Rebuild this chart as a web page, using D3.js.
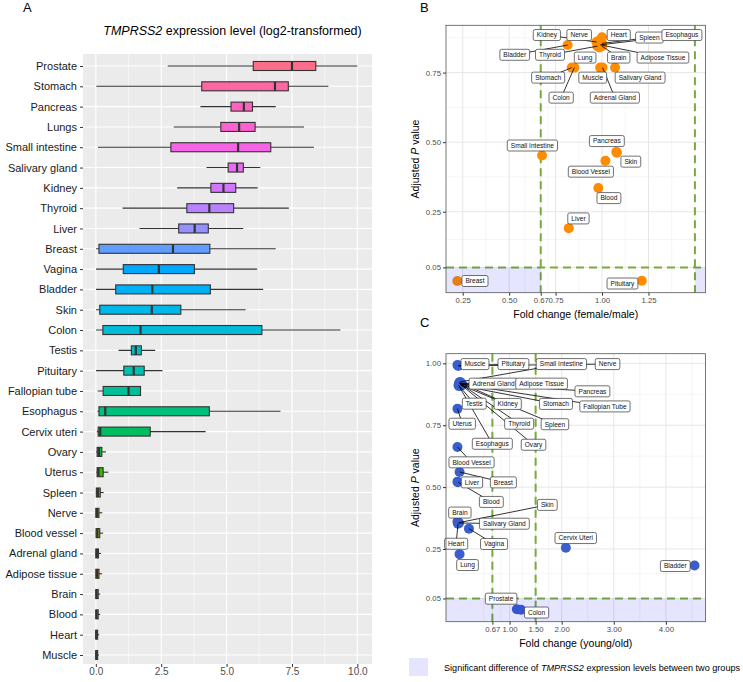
<!DOCTYPE html>
<html>
<head>
<meta charset="utf-8">
<script src="https://cdn.jsdelivr.net/npm/d3@7"></script>
<style>
body { margin: 0; background: #fff; }
svg { font-family: "Liberation Sans", Arial, sans-serif; }
</style>
</head>
<body>
<script>
//---- panel A data: tissues top to bottom, five-number summaries (log2)
var tissues = ["Prostate","Stomach","Pancreas","Lungs","Small intestine","Salivary gland","Kidney","Thyroid","Liver","Breast",
  "Vagina","Bladder","Skin","Colon","Testis","Pituitary","Fallopian tube","Esophagus","Cervix uteri","Ovary",
  "Uterus","Spleen","Nerve","Blood vessel","Adrenal gland","Adipose tissue","Brain","Blood","Heart","Muscle"];
var boxMin = [2.75,0.02,4.0,2.98,0.08,4.23,3.11,1.02,1.67,0.01, 0.01,0.01,0.01,0.01,0.87,0.01,0.07,0.06,0.04,0.02, 0.02,0.0,0.0,0.0,0.0,0.0,0.0,0.0,0.0,0.0];
var boxQ1  = [6.02,4.05,5.17,4.78,2.87,5.06,4.4,3.48,3.17,0.12, 1.05,0.76,0.15,0.27,1.36,1.07,0.28,0.12,0.09,0.05, 0.05,0.02,0.0,0.01,0.0,0.0,0.0,0.0,0.0,0.0];
var boxMed = [7.5,6.85,5.66,5.48,5.44,5.4,4.88,4.34,3.78,2.95, 2.41,2.16,2.14,1.71,1.53,1.45,1.25,0.36,0.17,0.12, 0.1,0.08,0.05,0.06,0.04,0.05,0.03,0.03,0.02,0.02];
var boxQ3  = [8.41,7.36,5.99,6.09,6.69,5.64,5.35,5.27,4.3,4.36, 3.77,4.38,3.25,6.35,1.74,1.85,1.71,4.34,2.08,0.23, 0.28,0.17,0.12,0.15,0.1,0.12,0.09,0.09,0.07,0.07];
var boxMax = [10.0,8.89,6.88,7.96,8.34,6.29,6.19,7.38,5.64,6.88, 6.17,6.4,5.73,9.35,2.27,2.55,1.72,7.06,4.2,0.39, 0.48,0.3,0.25,0.28,0.2,0.24,0.17,0.17,0.13,0.12];
var aTicks = [0, 2.5, 5, 7.5, 10];

//---- panel B data: fold change (female/male) and adjusted P
var bTissue = ["Kidney","Nerve","Heart","Spleen","Esophagus","Bladder","Thyroid","Lung","Brain","Adipose Tissue",
  "Stomach","Muscle","Salivary Gland","Colon","Adrenal Gland","Small Intestine","Pancreas","Skin","Blood Vessel","Blood",
  "Liver","Breast","Pituitary"];
var bFold = [0.97,0.985,1.0,1.0,0.995,0.815,0.975,0.985,1.0,0.99, 0.837,0.99,1.07,0.851,1.003,0.677,1.077,1.08,1.018,0.98, 0.821,0.221,1.214];
var bPadj = [0.86,0.865,0.877,0.855,0.85,0.849,0.845,0.84,0.845,0.85, 0.768,0.768,0.768,0.768,0.768,0.452,0.465,0.462,0.433,0.335, 0.191,0.001,0.002];
var bTicksX = [0.25, 0.5, 0.67, 0.75, 1.0, 1.25];
var bTicksY = [0.05, 0.25, 0.5, 0.75];

//---- panel C data: fold change (young/old) and adjusted P
var cTissue = ["Muscle","Pituitary","Small Intestine","Nerve","Adrenal Gland","Adipose Tissue","Pancreas","Testis","Kidney","Stomach",
  "Fallopian Tube","Uterus","Thyroid","Spleen","Esophagus","Ovary","Blood Vessel","Liver","Breast","Blood",
  "Skin","Brain","Salivary Gland","Heart","Vagina","Cervix Uteri","Lung","Bladder","Prostate","Colon"];
var cFold = [0.0,0.01,0.05,0.02,0.03,0.06,0.08,0.02,0.05,0.07, 0.09,0.0,0.04,0.06,0.03,0.05,0.0,0.0,0.04,0.01, 0.02,0.0,0.03,0.01,0.22,2.08,0.04,4.55,1.14,1.22];
var cPadj = [0.993,0.99,0.925,0.99,0.92,0.915,0.918,0.912,0.922,0.91, 0.915,0.817,0.92,0.913,0.908,0.917,0.662,0.522,0.561,0.52, 0.356,0.36,0.355,0.352,0.332,0.255,0.229,0.183,0.006,0.004];
var cTicksX = [0.67, 1.0, 1.5, 2.0, 3.0, 4.0];
var cTicksY = [0.05, 0.25, 0.5, 0.75, 1.0];

// thresholds of the shaded "significant" zones
var foldCut = [0.67, 1.5];
var pCut = 0.05;

//---- label placement (repelled label centres, data units)
var bLabelX = [0.703,0.877,1.09,1.255,1.43,0.53,0.72,0.909,1.09,1.328, 0.71,0.95,1.205,0.78,1.069,0.625,1.026,1.155,0.94,1.037, 0.873,0.316,1.11];
var bLabelY = [0.885,0.885,0.885,0.876,0.885,0.814,0.814,0.804,0.804,0.804, 0.732,0.732,0.732,0.66,0.66,0.488,0.504,0.43,0.394,0.299, 0.226,0.001,-0.008];
var cLabelX = [0.336,1.074,1.994,2.88,0.694,1.614,2.59,0.322,0.964,1.89, 2.83,0.091,1.184,1.87,0.669,1.46,0.27,0.278,0.881,0.65, 1.724,0.046,0.9,-0.025,0.702,2.27,0.193,4.18,0.837,1.518];
var cLabelY = [0.997,0.997,0.997,0.997,0.918,0.918,0.887,0.837,0.836,0.836, 0.826,0.756,0.756,0.754,0.675,0.671,0.6,0.519,0.519,0.44, 0.428,0.397,0.352,0.271,0.27,0.294,0.185,0.181,0.049,-0.007];

//ggplot-style hue colour (polar LUV -> sRGB)
function hueLuv(h, c, l) {
    var hr = h * Math.PI / 180, U = c * Math.cos(hr), V = c * Math.sin(hr);
    var Xn = 95.047, Yn = 100, Zn = 108.883;
    var den = Xn + 15 * Yn + 3 * Zn, un = 4 * Xn / den, vn = 9 * Yn / den;
    var Y = l > 8 ? Yn * Math.pow((l + 16) / 116, 3) : Yn * l / 903.3;
    var u = U / (13 * l) + un, v = V / (13 * l) + vn;
    var X = 9 * Y * u / (4 * v), Z = -X / 3 - 5 * Y + 3 * Y / v;
    X /= 100; Y /= 100; Z /= 100;
    var lin = [3.240479 * X - 1.53715 * Y - 0.498535 * Z,
               -0.969256 * X + 1.875992 * Y + 0.041556 * Z,
               0.055648 * X - 0.204043 * Y + 1.057311 * Z];
    var rgb = lin.map(function(t) {
        var s = t <= 0.0031308 ? 12.92 * t : 1.055 * Math.pow(t, 1 / 2.4) - 0.055;
        return Math.round(Math.max(0, Math.min(1, s)) * 255);
    });
    return d3.rgb(rgb[0], rgb[1], rgb[2]).formatHex();
}

var svg = d3.select("body").append("svg")
    .attr("width", 743)
    .attr("height", 682);

//panel letters
[["A", 23, 12], ["B", 420, 12], ["C", 420, 327]].forEach(function(p) {
    svg.append("text").attr("x", p[1]).attr("y", p[2])
        .style("font-size", "13px").style("fill", "#000").text(p[0]);
});

//================ panel A: boxplots ================
var aBox = {left: 83, right: 372, top: 54, bottom: 664};
var xA = d3.scaleLinear().domain([-0.49, 10.56]).range([aBox.left, aBox.right]);
var yA = d3.scalePoint().domain(tissues).range([66, 655]);

var gA = svg.append("g");
gA.append("rect")
    .attr("x", aBox.left).attr("y", aBox.top)
    .attr("width", aBox.right - aBox.left).attr("height", aBox.bottom - aBox.top)
    .attr("fill", "#ebebeb");

//minor + major vertical grid
gA.selectAll(".minA").data([1.25, 3.75, 6.25, 8.75]).enter().append("line")
    .attr("x1", d => xA(d)).attr("x2", d => xA(d))
    .attr("y1", aBox.top).attr("y2", aBox.bottom)
    .attr("stroke", "#fff").attr("stroke-width", 0.5);
gA.selectAll(".majA").data(aTicks).enter().append("line")
    .attr("x1", d => xA(d)).attr("x2", d => xA(d))
    .attr("y1", aBox.top).attr("y2", aBox.bottom)
    .attr("stroke", "#fff").attr("stroke-width", 1.1);
gA.selectAll(".rowA").data(tissues).enter().append("line")
    .attr("x1", aBox.left).attr("x2", aBox.right)
    .attr("y1", d => yA(d)).attr("y2", d => yA(d))
    .attr("stroke", "#fff").attr("stroke-width", 1.1);

var boxH = 9;
tissues.forEach(function(t, i) {
    var cy = yA(t);
    var col = hueLuv(15 + (tissues.length - 1 - i) * 12, 100, 65);
    //whisker
    gA.append("line")
        .attr("x1", xA(boxMin[i])).attr("x2", xA(boxMax[i]))
        .attr("y1", cy).attr("y2", cy)
        .attr("stroke", "#333").attr("stroke-width", 1.1);
    //box
    gA.append("rect")
        .attr("x", xA(boxQ1[i])).attr("y", cy - boxH / 2)
        .attr("width", Math.max(xA(boxQ3[i]) - xA(boxQ1[i]), 0.5))
        .attr("height", boxH)
        .attr("fill", col).attr("stroke", "#333").attr("stroke-width", 1.1);
    //median
    gA.append("line")
        .attr("x1", xA(boxMed[i])).attr("x2", xA(boxMed[i]))
        .attr("y1", cy - boxH / 2).attr("y2", cy + boxH / 2)
        .attr("stroke", "#333").attr("stroke-width", 2.2);
});

//A axes
var axA = gA.append("g").attr("transform", "translate(0," + aBox.bottom + ")")
    .call(d3.axisBottom(xA).tickValues(aTicks).tickFormat(d3.format(".1f")).tickSize(3).tickPadding(0.5));
axA.select(".domain").remove();
axA.selectAll("line").attr("stroke", "#333");
axA.selectAll("text").style("font-size", "10px").attr("fill", "#4d4d4d");

var ayA = gA.append("g").attr("transform", "translate(" + aBox.left + ",0)")
    .call(d3.axisLeft(yA).tickSize(3).tickPadding(3));
ayA.select(".domain").remove();
ayA.selectAll("line").attr("stroke", "#333");
ayA.selectAll("text").style("font-size", "11px").attr("fill", "#1a1a1a");

//A title
var tA = svg.append("text").attr("x", (aBox.left + aBox.right) / 2 + 5).attr("y", 35)
    .attr("text-anchor", "middle").style("font-size", "12.5px").style("fill", "#000");
tA.append("tspan").style("font-style", "italic").text("TMPRSS2");
tA.append("tspan").text(" expression level (log2-transformed)");

//================ panels B and C: volcano-like scatter ================
function scatterPanel(o) {
    var x = d3.scaleLinear().domain(o.xDomain).range([o.left, o.right]);
    var y = d3.scaleLinear().domain(o.yDomain).range([o.bottom, o.top]);
    var g = svg.append("g");

    g.append("rect").attr("x", o.left).attr("y", o.top)
        .attr("width", o.right - o.left).attr("height", o.bottom - o.top)
        .attr("fill", "#fff");

    //grid: minor between majors, then majors
    function mids(arr, dom) {
        var out = [];
        for (var k = 0; k < arr.length - 1; k++) out.push((arr[k] + arr[k + 1]) / 2);
        var lo = arr[0] - (arr[1] - arr[0]) / 2, hi = arr[arr.length - 1] + (arr[arr.length - 1] - arr[arr.length - 2]) / 2;
        if (lo > dom[0]) out.push(lo);
        if (hi < dom[1]) out.push(hi);
        return out;
    }
    g.selectAll(".mx").data(mids(o.ticksX, o.xDomain)).enter().append("line")
        .attr("x1", d => x(d)).attr("x2", d => x(d)).attr("y1", o.top).attr("y2", o.bottom)
        .attr("stroke", "#ebebeb").attr("stroke-width", 0.5);
    g.selectAll(".my").data(mids(o.ticksY, o.yDomain)).enter().append("line")
        .attr("y1", d => y(d)).attr("y2", d => y(d)).attr("x1", o.left).attr("x2", o.right)
        .attr("stroke", "#ebebeb").attr("stroke-width", 0.5);
    g.selectAll(".Mx").data(o.ticksX).enter().append("line")
        .attr("x1", d => x(d)).attr("x2", d => x(d)).attr("y1", o.top).attr("y2", o.bottom)
        .attr("stroke", "#e6e6e6").attr("stroke-width", 1);
    g.selectAll(".My").data(o.ticksY).enter().append("line")
        .attr("y1", d => y(d)).attr("y2", d => y(d)).attr("x1", o.left).attr("x2", o.right)
        .attr("stroke", "#e6e6e6").attr("stroke-width", 1);

    //threshold lines
    var dashCol = "#76ab3f";
    foldCut.forEach(function(f) {
        g.append("line").attr("x1", x(f)).attr("x2", x(f)).attr("y1", o.top).attr("y2", o.bottom)
            .attr("stroke", dashCol).attr("stroke-width", 2).attr("stroke-dasharray", "8,5");
    });
    g.append("line").attr("x1", o.left).attr("x2", o.right).attr("y1", y(pCut)).attr("y2", y(pCut))
        .attr("stroke", dashCol).attr("stroke-width", 2).attr("stroke-dasharray", "8,5");

    //points
    var r = 5;
    o.names.forEach(function(n, i) {
        g.append("circle").attr("cx", x(o.fold[i])).attr("cy", y(o.padj[i])).attr("r", r)
            .attr("fill", o.color);
    });

    //shaded significant zones (drawn over the points, semi transparent)
    o.shade.forEach(function(s) {
        var x0 = Math.max(x(s[0]), o.left), x1 = Math.min(x(s[1]), o.right);
        g.append("rect").attr("x", x0).attr("y", y(pCut))
            .attr("width", x1 - x0).attr("height", o.bottom - y(pCut))
            .attr("fill", "blue").attr("fill-opacity", 0.1);
    });

    //labels with leader segments
    var segG = g.append("g"), labG = g.append("g");
    o.names.forEach(function(n, i) {
        var lx = x(o.labX[i]), ly = y(o.labY[i]);
        var px = x(o.fold[i]), py = y(o.padj[i]);
        var lab = labG.append("g");
        var box = lab.append("rect");
        var txt = lab.append("text").attr("x", lx).attr("y", ly + 2.3)
            .attr("text-anchor", "middle").style("font-size", "6.6px").style("fill", "#111").text(n);
        var tw = txt.node().getComputedTextLength();
        var bw = tw + 7, bh = 11;
        box.attr("x", lx - bw / 2).attr("y", ly - bh / 2).attr("width", bw).attr("height", bh)
            .attr("rx", 1.8).attr("fill", "#fff").attr("stroke", "#333").attr("stroke-width", 0.7);
        //distance from the point to the label box
        var dx = Math.max(lx - bw / 2 - px, 0, px - (lx + bw / 2));
        var dy = Math.max(ly - bh / 2 - py, 0, py - (ly + bh / 2));
        if (Math.sqrt(dx * dx + dy * dy) > r + 3) {
            segG.append("line").attr("x1", px).attr("y1", py).attr("x2", lx).attr("y2", ly)
                .attr("stroke", "#000").attr("stroke-width", 0.8);
        }
    });

    //panel border
    g.append("rect").attr("x", o.left).attr("y", o.top)
        .attr("width", o.right - o.left).attr("height", o.bottom - o.top)
        .attr("fill", "none").attr("stroke", "#555").attr("stroke-width", 0.8);

    //axes
    var ax = g.append("g").attr("transform", "translate(0," + o.bottom + ")")
        .call(d3.axisBottom(x).tickValues(o.ticksX).tickFormat(d3.format(".2f")).tickSize(3).tickPadding(2));
    ax.select(".domain").remove();
    ax.selectAll("line").attr("stroke", "#333");
    ax.selectAll("text").style("font-size", "7.8px").attr("fill", "#4d4d4d");
    var ay = g.append("g").attr("transform", "translate(" + o.left + ",0)")
        .call(d3.axisLeft(y).tickValues(o.ticksY).tickFormat(d3.format(".2f")).tickSize(3).tickPadding(2));
    ay.select(".domain").remove();
    ay.selectAll("line").attr("stroke", "#333");
    ay.selectAll("text").style("font-size", "7.8px").attr("fill", "#4d4d4d");

    //axis titles
    g.append("text").attr("x", (o.left + o.right) / 2).attr("y", o.bottom + 25)
        .attr("text-anchor", "middle").style("font-size", "10.5px").style("fill", "#000").text(o.xTitle);
    var yt = g.append("text")
        .attr("transform", "translate(" + (o.left - 27) + "," + ((o.top + o.bottom) / 2) + ") rotate(-90)")
        .attr("text-anchor", "middle").style("font-size", "10.5px").style("fill", "#000");
    yt.append("tspan").text("Adjusted ");
    yt.append("tspan").style("font-style", "italic").text("P");
    yt.append("tspan").text(" value");
}

scatterPanel({
    left: 446, right: 705.5, top: 25.3, bottom: 292.7,
    xDomain: [0.16, 1.557], yDomain: [-0.041, 0.92],
    ticksX: bTicksX, ticksY: bTicksY,
    names: bTissue, fold: bFold, padj: bPadj, labX: bLabelX, labY: bLabelY,
    color: "#ff8c00",
    shade: [[-10, foldCut[0]], [foldCut[1], 10]],
    xTitle: "Fold change (female/male)"
});

scatterPanel({
    left: 446, right: 705.5, top: 353.7, bottom: 621.7,
    xDomain: [-0.22, 4.76], yDomain: [-0.044, 1.039],
    ticksX: cTicksX, ticksY: cTicksY,
    names: cTissue, fold: cFold, padj: cPadj, labX: cLabelX, labY: cLabelY,
    color: "#3a5fcd",
    shade: [[-10, 10]],
    xTitle: "Fold change (young/old)"
});

//legend for the shaded zone
svg.append("rect").attr("x", 409).attr("y", 658).attr("width", 19).attr("height", 18)
    .attr("fill", "blue").attr("fill-opacity", 0.1);
var lg = svg.append("text").attr("x", 444).attr("y", 670.5)
    .style("font-size", "9.1px").style("fill", "#000");
lg.append("tspan").text("Significant difference of ");
lg.append("tspan").style("font-style", "italic").text("TMPRSS2");
lg.append("tspan").text(" expression levels between two groups");
</script>
</body>
</html>
